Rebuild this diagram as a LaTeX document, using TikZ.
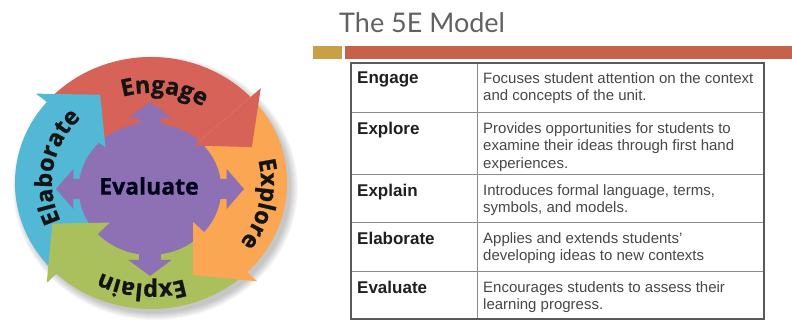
\documentclass[tikz,border=0pt]{standalone}
\usepackage{fontspec}
\setmainfont{Liberation Sans}
\newfontfamily\ringfont{Open Sans}[BoldFeatures={FakeBold=0.8}]
\newfontfamily\titlefont{Lato}
\usepackage{xcolor}
\usetikzlibrary{decorations.text}
\definecolor{engred}{RGB}{214,98,88}
\definecolor{exporange}{RGB}{250,166,82}
\definecolor{explgreen}{RGB}{170,192,92}
\definecolor{elabblue}{RGB}{82,184,214}
\definecolor{evalpurple}{RGB}{142,112,180}
\definecolor{bargold}{RGB}{201,160,72}
\definecolor{barred}{RGB}{200,97,74}
\newcommand\ringstyle{\ringfont\bfseries\fontsize{23.5}{23.5}\selectfont\color{black!92}}
\tikzset{rowname/.style={anchor=north west,inner sep=0,font=\fontsize{17}{20}\selectfont\bfseries,text=black!88},
    rowtext/.style={anchor=north west,inner sep=0,align=left,font=\fontsize{15}{17.5}\selectfont,text=black!72},
    ringtext/.style={decorate,decoration={text along path,text align=center,text={#1}}},
    gridline/.style={draw=black!45,line width=1pt}}

\begin{document}
\begin{tikzpicture}[x=1pt,y=1pt]
    \useasboundingbox (0,0) rectangle (792,320);

    \begin{scope}[shift={(151,137)},xscale=1.08]
        \foreach \i in {1,...,8}
            \fill[black,opacity=0.03] (4,-5) circle[radius={124+\i}];
        \foreach \col/\a/\b in {engred/140/43,exporange/43/-45,explgreen/-45/-134,elabblue/-134/-220}
            \fill[\col] (\a:126) arc[start angle=\a,end angle=\b,radius=126] -- (\b:58) arc[start angle=\b,end angle=\a,radius=58] -- cycle;
    \end{scope}

    \begin{scope}[shift={(150,131)},xscale=1.08]
        \fill[evalpurple] (0,0) circle[radius=66];
        \foreach \d in {0,90,180,270}
            \fill[evalpurple,rotate=\d] (55,-10) -- (71,-10) -- (71,-20) -- (87,0) -- (71,20) -- (71,10) -- (55,10) -- cycle;
    \end{scope}

    \begin{scope}[shift={(151,137)},xscale=1.08]
        \foreach \col/\b in {engred/43,exporange/-45,explgreen/-134,elabblue/140}
            \fill[\col] (\b:139) -- ({\b-22}:100) -- (\b:55) -- cycle;
    \end{scope}

    \path[ringtext={|\ringstyle|Engage}] ([shift={(142:98 and 90)}]151,137) arc[start angle=142,end angle=22,x radius=98,y radius=90];
    \path[ringtext={|\ringstyle|Explore}] ([shift={(49:110 and 102)}]151,137) arc[start angle=49,end angle=-71,x radius=110,y radius=102];
    \path[ringtext={|\ringstyle|Explain}] ([shift={(-35:109 and 101)}]151,137) arc[start angle=-35,end angle=-155,x radius=109,y radius=101];
    \path[ringtext={|\ringstyle|Elaborate}] ([shift={(230:99 and 92)}]151,137) arc[start angle=230,end angle=110,x radius=99,y radius=92];
    \node[font=\ringfont\bfseries\fontsize{23}{23}\selectfont,text=black!90!blue] (evaluate) at (149,134) {Evaluate};

    \node[anchor=base west,inner sep=0,font=\titlefont\fontsize{27}{27}\selectfont,text=black!62] (title) at (339,287) {The 5E Model};
    \fill[bargold] (313,261) rectangle (342,274);
    \fill[barred] (345,261) rectangle (792,274);

    \draw[gridline] (477,257) -- (477,1);
    \foreach \y in {207,145,97,48}
        \draw[gridline] (351,\y) -- (764,\y);
    \draw[draw=black!65,line width=1.2pt] (351,1) rectangle (764,257);

    \node[rowname] (engage) at (357,248) {Engage};
    \node[rowname] (explore) at (357,198) {Explore};
    \node[rowname] (explain) at (357,136) {Explain};
    \node[rowname] (elaborate) at (357,88) {Elaborate};
    \node[rowname] (evalrow) at (357,39) {Evaluate};

    \node[rowtext] (engagetext) at (483,248) {Focuses student attention on the context\\and concepts of the unit.};
    \node[rowtext] (exploretext) at (483,198) {Provides opportunities for students to\\examine their ideas through first hand\\experiences.};
    \node[rowtext] (explaintext) at (483,136) {Introduces formal language, terms,\\symbols, and models.};
    \node[rowtext] (elaboratetext) at (483,88) {Applies and extends students'\\developing ideas to new contexts};
    \node[rowtext] (evaltext) at (483,39) {Encourages students to assess their\\learning progress.};
\end{tikzpicture}
\end{document}
